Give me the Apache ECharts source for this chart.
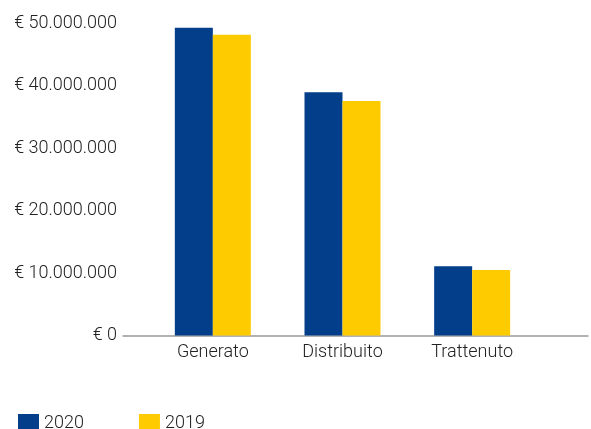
<!DOCTYPE html>
<html>
<head>
<meta charset="utf-8">
<script src="https://cdn.jsdelivr.net/npm/echarts@6/dist/echarts.min.js"></script>
<style>
  html, body { margin: 0; padding: 0; background: #fff; }
  #chart { width: 591px; height: 429px; }
</style>
</head>
<body>
<div id="chart"></div>
<script>
// dati
var categories = ['Generato', 'Distribuito', 'Trattenuto'];
var years = ['2020', '2019'];
var values2020 = [49300000, 39000000, 11100000];
var values2019 = [48200000, 37600000, 10500000];
var colors = ['#023e8a', '#fecb00'];

function euro(v) {
  return '€ ' + String(v).replace(/\B(?=(\d{3})+(?!\d))/g, '.');
}

var chart = echarts.init(document.getElementById('chart'));
var font = 'Roboto';
var txt = { fontFamily: font, fontSize: 18, fontWeight: 300, color: '#222' };
var option = {
  backgroundColor: '#fff',
  color: colors,
  legend: {
    data: years,
    left: 13,
    top: 409,
    itemWidth: 21,
    itemHeight: 18,
    itemGap: 55,
    icon: 'rect',
    textStyle: txt
  },
  grid: [
    { left: 148, right: 54, top: 23.5, bottom: 93.5 },
    // solo per la linea dell'asse, più larga dell'area delle barre
    { left: 123, right: 3, top: 23.5, bottom: 93.5 }
  ],
  xAxis: [{
    type: 'category',
    gridIndex: 0,
    data: categories,
    axisLine: { show: false },
    axisTick: { show: false },
    axisLabel: Object.assign({ margin: 8 }, txt)
  }, {
    type: 'value',
    gridIndex: 1,
    min: 0,
    max: 1,
    axisLine: { show: true, lineStyle: { color: '#999', width: 1.5 } },
    axisTick: { show: false },
    axisLabel: { show: false },
    splitLine: { show: false }
  }],
  yAxis: [{
    type: 'value',
    gridIndex: 0,
    min: 0,
    max: 50000000,
    interval: 10000000,
    axisLine: { show: false },
    axisTick: { show: false },
    splitLine: { show: false },
    axisLabel: Object.assign({ margin: 31, formatter: euro }, txt)
  }, {
    type: 'value',
    gridIndex: 1,
    show: false
  }],
  series: [{
    name: years[0],
    type: 'bar',
    data: values2020,
    barWidth: 38,
    barGap: '0%'
  }, {
    name: years[1],
    type: 'bar',
    data: values2019,
    barWidth: 38,
    barGap: '0%'
  }]
};
chart.setOption(option);
</script>
</body>
</html>
